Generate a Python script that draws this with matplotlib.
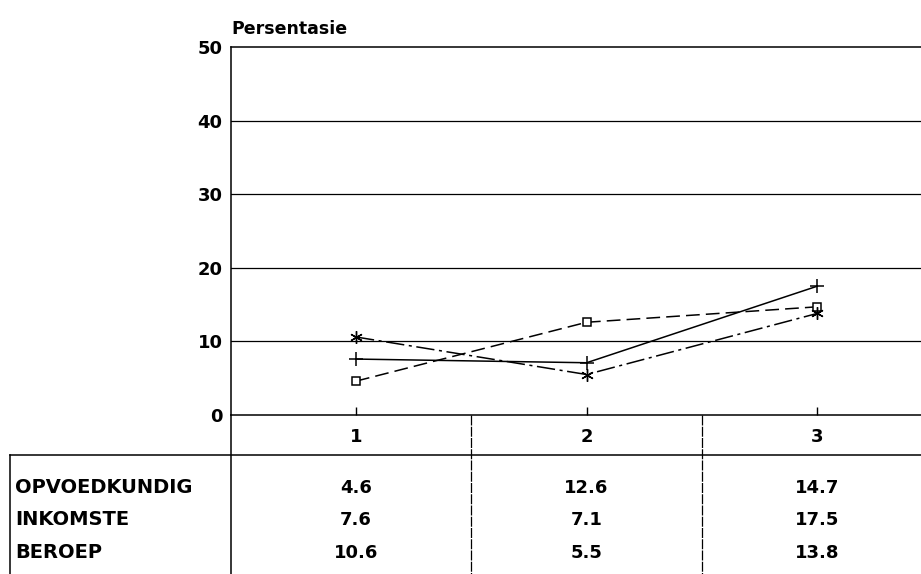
import matplotlib.pyplot as plt
from matplotlib.lines import Line2D

plt.rcParams['font.family'] = ['DejaVu Sans']
plt.rcParams['font.weight'] = 'bold'

# data
kolomme = [1, 2, 3]
reeks_name = ["OPVOEDKUNDIG", "INKOMSTE", "BEROEP"]
opvoedkundig = [4.6, 12.6, 14.7]
inkomste = [7.6, 7.1, 17.5]
beroep = [10.6, 5.5, 13.8]
y_ticks = [0, 10, 20, 30, 40, 50]

fig = plt.figure(figsize=(9.21, 5.74), dpi=100)
ax = fig.add_axes([231 / 921, 1 - 415 / 574, 690 / 921, 368 / 574])

ax.plot(kolomme, opvoedkundig, color='black', lw=1.1, ls=(0, (9, 4)),
        marker='s', ms=6, mfc='white', mec='black', mew=1.1)
ax.plot(kolomme, inkomste, color='black', lw=1.1, ls='-',
        marker='+', ms=10, mew=1.1)
ax.plot(kolomme, beroep, color='black', lw=1.1, ls=(0, (12, 3, 2, 3)),
        marker=(6, 2, 0), ms=9, mew=1.0)

ax.set_ylim(0, 50)
ax.set_xlim(0.458, 3.45)
ax.set_yticks(y_ticks)
ax.set_yticklabels([str(t) for t in y_ticks], fontsize=13, fontweight='bold')
ax.tick_params(axis='y', length=0, pad=6)
ax.set_xticks(kolomme)
ax.set_xticklabels([])
ax.tick_params(axis='x', direction='in', length=6, width=1)
for t in y_ticks[1:-1]:
    ax.axhline(t, color='black', lw=0.9, zorder=0)
for s in ['left', 'top', 'bottom']:
    ax.spines[s].set_linewidth(1.1)
ax.spines['right'].set_visible(False)

ax.text(0.0, 1.025, "Persentasie", transform=ax.transAxes, fontsize=12.5,
        fontweight='bold', ha='left', va='bottom')

# tabel onder die grafiek
trans = ax.get_xaxis_transform()
for k in kolomme:
    ax.text(k, -0.06, str(k), transform=trans, ha='center', va='center',
            fontsize=13, fontweight='bold', clip_on=False)

rye_y = [-0.198, -0.285, -0.375]
waardes = [opvoedkundig, inkomste, beroep]
for naam, vals, yy in zip(reeks_name, waardes, rye_y):
    fig.text(15 / 921, 1 - (415 - yy * 368) / 574, naam, ha='left', va='center',
             fontsize=14, fontweight='bold')
    for k, v in zip(kolomme, vals):
        ax.text(k, yy, f"{v:.1f}", transform=trans, ha='center', va='center',
                fontsize=13, fontweight='bold', clip_on=False)

# tabel lyne
for xs in [1.5, 2.5]:
    ax.add_line(Line2D([xs, xs], [0, -0.45], transform=trans, color='black',
                       lw=0.9, ls=(0, (8, 1)), clip_on=False))
ax.add_line(Line2D([0.458, 0.458], [0, -0.45], transform=trans, color='black',
                   lw=1.1, clip_on=False))
fig.add_artist(Line2D([10 / 921, 1.0], [1 - 455 / 574] * 2, color='black', lw=1.1))
fig.add_artist(Line2D([10 / 921] * 2, [1 - 455 / 574, 0], color='black', lw=1.1))

fig.savefig("out.png", dpi=100)
